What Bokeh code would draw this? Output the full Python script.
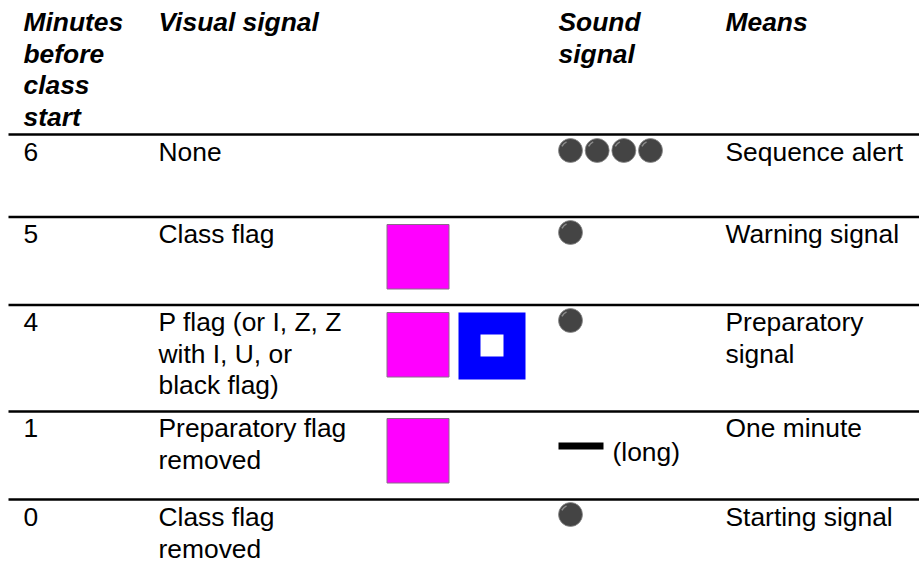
from bokeh.plotting import figure
from bokeh.embed import file_html
from bokeh.resources import INLINE
from bokeh.core.properties import value

headers = ["Minutes\nbefore\nclass\nstart", "Visual signal", "Sound\nsignal", "Means"]
minutes = ["6", "5", "4", "1", "0"]
visual = ["None", "Class flag", "P flag (or I, Z, Z\nwith I, U, or\nblack flag)", "Preparatory flag\nremoved", "Class flag\nremoved"]
means = ["Sequence alert", "Warning signal", "Preparatory\nsignal", "One minute", "Starting signal"]
sound_counts = [4, 1, 1, 0, 1]
long_label = "(long)"

W, H = 919, 570
FONT = "Liberation Sans"
LH = 31.5
SIZE = "26.4px"
TEXT_SHIFT = -10.5
col_x = [23, 158, 558, 725]
row_base = [162, 244, 332, 438, 527]
row_lines = [134, 216.5, 304.5, 411, 499]
head_base = 32

p = figure(width=W, height=H, x_range=(0, W), y_range=(H, 0), output_backend="svg",
           toolbar_location=None, min_border=0, outline_line_color=None, background_fill_color="white")
p.axis.visible = False
p.grid.visible = False


def txt(x, y, s, bold=False):
    for i, part in enumerate(s.split("\n")):
        p.text([x], [y + i * LH + TEXT_SHIFT], text=[part], text_font=value(FONT), text_font_size=SIZE,
               text_color="#000000", text_baseline="alphabetic", text_align="left",
               text_font_style="bold italic" if bold else "normal")


for x, h in zip(col_x, headers):
    txt(x, head_base, h, bold=True)
for i in range(5):
    txt(col_x[0], row_base[i], minutes[i])
    txt(col_x[1], row_base[i], visual[i])
    txt(col_x[3], row_base[i], means[i])

p.segment(x0=[8] * 5, x1=[W] * 5, y0=row_lines, y1=row_lines, line_color="#000000", line_width=2.5)

sq_top = [224, 312, 418]
p.quad(left=[386.5] * 3, right=[448.5] * 3, top=[t + 64.5 for t in sq_top], bottom=sq_top,
       fill_color="#ff00ff", line_color="#8a6a8a", line_width=1)
p.quad(left=[458], right=[525], top=[379], bottom=[312], fill_color="#0000ff", line_color=None)
p.quad(left=[480], right=[503], top=[356], bottom=[334], fill_color="#ffffff", line_color=None)

cy = [150, 232, 320, None, 514]
cx, cyy = [], []
for i, n in enumerate(sound_counts):
    for k in range(n):
        cx.append(570 + k * 26.67)
        cyy.append(cy[i])
p.scatter(cx, cyy, size=24, fill_color="#444444", line_color="#8a8a8a", line_width=0.8)
p.arc(cx, cyy, radius=9.5, start_angle=2.0, end_angle=2.7, line_color="#8a8a8a", line_width=1.6)

p.quad(left=[558], right=[603], top=[449], bottom=[442], fill_color="#000000", line_color=None)
txt(612, 461.5, long_label)

open("out.html", "w").write(file_html(p, INLINE))
